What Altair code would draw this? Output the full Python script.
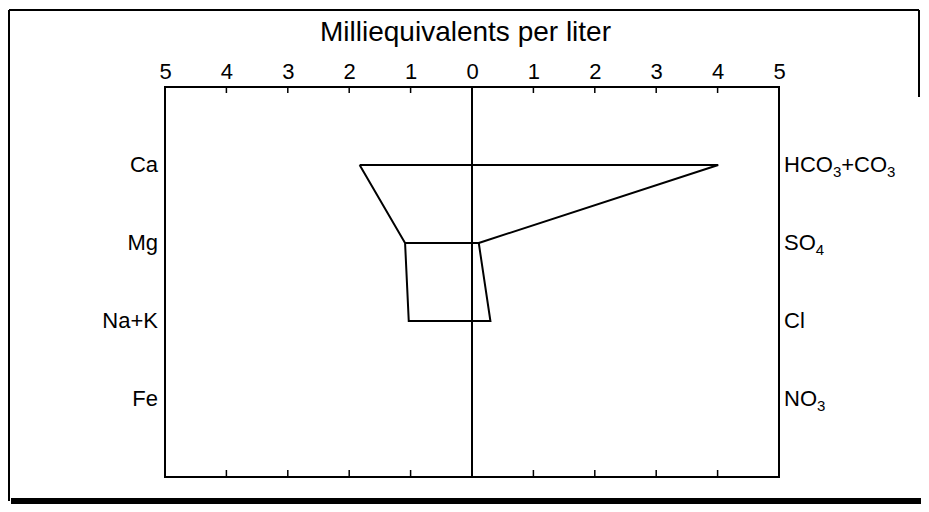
import altair as alt
import pandas as pd

# Stiff diagram data (milliequivalents per liter)
cations = ["Ca", "Mg", "Na+K", "Fe"]
# anion labels split into (text, is_subscript) pieces
anion_parts = [
    [("HCO", False), ("3", True), ("+CO", False), ("3", True)],
    [("SO", False), ("4", True)],
    [("Cl", False)],
    [("NO", False), ("3", True)],
]
rows = [1, 2, 3, 4]
cation_values = [1.83, 1.09, 1.03]      # Ca, Mg, Na+K (Fe not plotted)
anion_values = [4.01, 0.11, 0.30]       # HCO3+CO3, SO4, Cl (NO3 not plotted)
tick_values = [-5, -4, -3, -2, -1, 0, 1, 2, 3, 4, 5]
inner_ticks = [-4, -3, -2, -1, 1, 2, 3, 4]

W, H = 614, 390
FONT = "Liberation Sans"
LABEL_SIZE = 22
SUB_SIZE = 15

# approximate Arial/Liberation Sans advance widths (per 1000 em)
ADV = {"H": 722, "C": 722, "O": 778, "S": 667, "N": 722, "l": 222, "+": 584,
       "3": 556, "4": 556}


def text_width(s, size):
    return sum(ADV.get(c, 556) for c in s) * size / 1000.0


# closed polygon: cations down the left, anions back up the right
poly_pts = []
for i in range(3):
    poly_pts.append((-cation_values[i], rows[i]))
for i in reversed(range(3)):
    poly_pts.append((anion_values[i], rows[i]))
poly_pts.append(poly_pts[0])
poly = pd.DataFrame({"x": [p[0] for p in poly_pts], "y": [p[1] for p in poly_pts],
                     "order": list(range(len(poly_pts))), "path": "polygon"})
mid = pd.DataFrame({"x": [-cation_values[1], anion_values[1]], "y": [rows[1], rows[1]],
                    "order": [0, 1], "path": "middle"})
lines_df = pd.concat([poly, mid], ignore_index=True)

xscale = alt.Scale(domain=[-5, 5], nice=False, zero=False)
yscale = alt.Scale(domain=[0, 5], reverse=True, nice=False)

base_axis_df = pd.DataFrame({"v": tick_values, "y": [0] * len(tick_values)})

axis_layer = alt.Chart(base_axis_df).mark_point(opacity=0).encode(
    x=alt.X("v:Q", scale=xscale,
            axis=alt.Axis(orient="top", values=tick_values, labelExpr="abs(datum.value)",
                          domain=False, ticks=False, grid=False, labelFlush=False,
                          labelFont=FONT, labelFontSize=22, labelColor="black",
                          labelPadding=4, labelBaseline="bottom",
                          title="Milliequivalents per liter", titleFont=FONT,
                          titleFontSize=28, titleFontWeight="normal", titleColor="black",
                          titlePadding=14, titleX=300)),
    y=alt.Y("y:Q", scale=yscale, axis=None),
)

ticks_df = pd.DataFrame({"v": inner_ticks})
top_ticks = alt.Chart(ticks_df).mark_rule(color="black", strokeWidth=1.5).encode(
    x=alt.X("v:Q", scale=xscale), y=alt.value(0), y2=alt.value(6))
bot_ticks = alt.Chart(ticks_df).mark_rule(color="black", strokeWidth=1.5).encode(
    x=alt.X("v:Q", scale=xscale), y=alt.value(H), y2=alt.value(H - 7))

zero_line = alt.Chart(pd.DataFrame({"v": [0]})).mark_rule(color="black", strokeWidth=2).encode(
    x=alt.X("v:Q", scale=xscale), y=alt.value(0), y2=alt.value(H))

stiff = alt.Chart(lines_df).mark_line(color="black", strokeWidth=2).encode(
    x=alt.X("x:Q", scale=xscale),
    y=alt.Y("y:Q", scale=yscale),
    detail="path:N",
    order="order:Q",
)

left_df = pd.DataFrame({"label": cations, "row": rows})
left_labels = alt.Chart(left_df).mark_text(align="right", baseline="middle", font=FONT,
                                           fontSize=LABEL_SIZE, color="black").encode(
    x=alt.value(-7), y=alt.Y("row:Q", scale=yscale), text="label:N")

# right-hand labels, built piece by piece so the subscripts sit low and small
right_layers = []
for row, parts in zip(rows, anion_parts):
    offset = 0.0
    for txt, is_sub in parts:
        size = SUB_SIZE if is_sub else LABEL_SIZE
        piece = alt.Chart(pd.DataFrame({"label": [txt], "row": [row]})).mark_text(
            align="left", baseline="middle", font=FONT, fontSize=size, color="black",
            dy=7 if is_sub else 0,
        ).encode(x=alt.value(W + 5 + offset), y=alt.Y("row:Q", scale=yscale), text="label:N")
        right_layers.append(piece)
        offset += text_width(txt, size)

# outer figure frame (decoration)
one = base_axis_df.head(1)
frame_top = alt.Chart(one).mark_rule(color="black", strokeWidth=2).encode(
    x=alt.value(-156), x2=alt.value(754), y=alt.value(-77))
frame_left = alt.Chart(one).mark_rule(color="black", strokeWidth=2).encode(
    x=alt.value(-156), y=alt.value(-77), y2=alt.value(414))
frame_right = alt.Chart(one).mark_rule(color="black", strokeWidth=2).encode(
    x=alt.value(754), y=alt.value(-77), y2=alt.value(10))
frame_bottom = alt.Chart(one).mark_rule(color="black", strokeWidth=6).encode(
    x=alt.value(-154), x2=alt.value(760), y=alt.value(414))

chart = alt.layer(
    axis_layer, top_ticks, bot_ticks, zero_line, stiff, left_labels, *right_layers,
    frame_top, frame_left, frame_right, frame_bottom,
).properties(
    width=W, height=H,
    background="white",
    autosize=alt.AutoSizeParams(type="none"),
    padding={"left": 157, "top": 79, "right": 142, "bottom": 27},
).configure_view(stroke="black", strokeWidth=2)

chart.save("out.html", embed_options={"renderer": "svg", "actions": False})
